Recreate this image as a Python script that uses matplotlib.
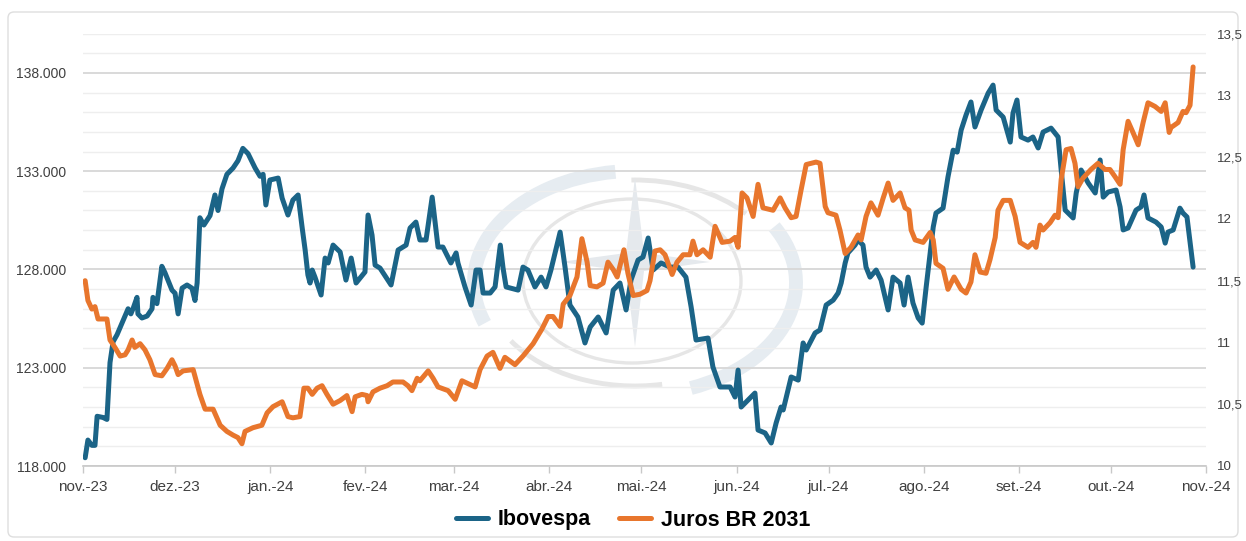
import numpy as np
import pandas as pd
import matplotlib
matplotlib.use("Agg")
import matplotlib.pyplot as plt
from matplotlib.patches import Arc, Ellipse, Polygon, FancyBboxPatch
from matplotlib.ticker import FixedLocator, MultipleLocator

plt.rcParams['font.family'] = ['Liberation Sans', 'DejaVu Sans']

# ---------------- data ----------------
start_date = "2023-11-01"
month_labels = ['nov.-23', 'dez.-23', 'jan.-24', 'fev.-24', 'mar.-24', 'abr.-24',
                'mai.-24', 'jun.-24', 'jul.-24', 'ago.-24', 'set.-24', 'out.-24', 'nov.-24']

# Ibovespa (points) - days since 2023-11-01
ibov_days = [0.7, 1.6, 2.9, 3.9, 4.6, 6.5, 7.8, 8.8, 9.8, 11.1,
             13.0, 14.7, 15.6, 16.3, 17.6, 17.9, 19.2, 20.9, 22.5, 22.8,
             24.1, 25.7, 26.7, 29.0, 30.0, 31.0, 32.3, 33.9, 35.5, 36.5,
             37.2, 38.1, 39.4, 41.4, 43.0, 44.0, 45.3, 46.9, 48.9, 50.5,
             52.1, 53.8, 56.1, 57.7, 58.7, 59.6, 60.9, 63.6, 64.9, 66.8,
             68.4, 70.1, 71.4, 72.4, 73.3, 74.0, 74.7, 75.6, 77.6, 78.9,
             79.9, 81.5, 83.8, 85.7, 87.4, 89.0, 90.3, 91.9, 92.9, 94.2,
             95.2, 96.8, 100.4, 102.7, 105.3, 106.6, 108.5, 109.8, 111.8, 113.8,
             115.7, 117.3, 119.9, 121.6, 122.2, 124.5, 126.5, 128.1, 129.4, 130.4,
             132.7, 134.3, 136.0, 136.9, 137.9, 141.8, 143.4, 145.0, 147.3, 149.3,
             150.9, 152.5, 155.5, 157.1, 158.7, 161.3, 163.6, 165.3, 167.9, 170.5,
             172.8, 175.0, 177.0, 178.6, 180.9, 182.5, 184.2, 185.8, 188.4, 191.3,
             193.9, 196.5, 198.2, 199.8, 203.7, 205.3, 207.6, 210.9, 212.5, 213.5,
             214.5, 216.8, 219.0, 220.0, 222.3, 224.3, 225.9, 227.5, 228.2, 230.8,
             233.1, 234.7, 235.7, 238.6, 240.2, 242.2, 244.5, 246.1, 247.1, 248.4,
             249.3, 251.6, 252.6, 254.2, 255.2, 256.5, 258.5, 260.1, 261.4, 262.4,
             264.0, 266.3, 267.6, 268.9, 270.5, 272.2, 273.5, 274.8, 277.1, 278.0,
             280.3, 281.9, 283.6, 284.9, 286.2, 287.8, 289.4, 290.7, 292.7, 295.0,
             296.6, 297.6, 299.9, 302.2, 303.1, 304.4, 305.7, 308.0, 309.6, 311.3,
             312.9, 315.5, 317.8, 318.8, 320.1, 322.7, 323.7, 325.3, 327.6, 329.9,
             331.5, 332.5, 334.1, 336.7, 338.0, 339.0, 340.6, 343.2, 344.8, 345.8,
             347.1, 349.7, 351.4, 352.7, 353.6, 355.3, 357.5, 358.5, 359.8, 361.8]
ibov_values = [118420, 119320, 119050, 119050, 120530, 120470, 120370, 123260, 124320, 124680,
               125370, 126000, 125740, 126000, 126580, 125740, 125530, 125630, 126000, 126580,
               126260, 128160, 127840, 126950, 126790, 125740, 127050, 127210, 127050, 126420,
               127320, 130630, 130260, 130740, 131790, 131000, 132100, 132840, 133160, 133530,
               134160, 133890, 133160, 132740, 132840, 131280, 132550, 132650, 131630, 130770,
               131530, 131790, 130160, 128990, 127720, 127310, 127970, 127610, 126700, 128580,
               128330, 129240, 128890, 127460, 128580, 127310, 127560, 127870, 130770, 129750,
               128220, 128070, 127210, 128990, 129240, 130110, 130410, 129500, 129500, 131680,
               129140, 129140, 128330, 128840, 128330, 127110, 126190, 127970, 127970, 126800,
               126800, 127110, 129240, 128070, 127110, 126950, 128120, 127970, 127110, 127610,
               127110, 127970, 129900, 128120, 126190, 125580, 124260, 125070, 125580, 124770,
               126950, 127310, 125940, 127460, 128480, 128630, 129600, 127970, 128330, 128120,
               128120, 127610, 126090, 124410, 124510, 123040, 122020, 122020, 121510, 122880,
               121000, 121360, 121710, 119830, 119680, 119170, 120190, 121000, 120850, 122530,
               122370, 124260, 123900, 124770, 124920, 126190, 126440, 126800, 127310, 128330,
               128840, 129240, 129500, 129240, 128120, 127610, 127970, 127460, 126600, 125940,
               127610, 127310, 126190, 127610, 126290, 125530, 125270, 127110, 130160, 130870,
               131120, 132700, 134070, 133970, 135090, 135860, 136520, 135250, 136110, 136970,
               137380, 136110, 135750, 134480, 135960, 136620, 134740, 134580, 134740, 134180,
               134990, 135190, 134740, 133060, 131020, 130620, 131890, 133060, 132400, 131890,
               133570, 131680, 131940, 132040, 131180, 130010, 130110, 131020, 131180, 131790,
               130620, 130410, 130160, 129340, 129900, 130010, 131120, 130870, 130670, 128120]

# Juros BR 2031 (% a.a.) - days since 2023-11-01
juros_days = [0.7, 1.6, 2.9, 3.9, 4.9, 7.2, 7.8, 8.8, 10.4, 12.1,
              13.7, 14.7, 16.0, 16.9, 18.6, 20.2, 21.8, 23.5, 25.7, 27.4,
              29.0, 30.0, 31.0, 32.6, 35.9, 38.1, 39.8, 42.4, 44.7, 46.9,
              48.9, 50.5, 51.8, 52.8, 55.4, 58.3, 60.0, 61.9, 64.9, 66.8,
              68.4, 70.7, 72.0, 73.3, 74.7, 76.3, 77.9, 79.5, 81.5, 83.8,
              86.0, 87.7, 88.7, 90.9, 92.6, 92.9, 94.5, 96.8, 99.1, 101.0,
              104.3, 105.9, 107.2, 108.9, 109.8, 112.5, 114.1, 115.7, 119.0, 121.3,
              123.5, 125.2, 127.8, 129.4, 131.7, 133.6, 135.9, 137.5, 140.8, 143.4,
              146.7, 149.6, 151.6, 153.2, 155.5, 156.5, 158.7, 161.0, 162.6, 164.3,
              165.3, 167.5, 169.5, 171.1, 172.8, 174.1, 176.3, 177.6, 179.3, 181.5,
              183.8, 184.8, 186.4, 188.1, 189.7, 192.0, 193.6, 195.6, 197.8, 198.8,
              200.1, 202.1, 204.4, 206.0, 208.3, 210.9, 212.5, 213.5, 214.8, 216.4,
              218.4, 220.0, 221.6, 224.9, 227.2, 228.8, 230.8, 232.4, 234.0, 235.7,
              238.9, 240.2, 241.9, 242.8, 245.4, 246.7, 248.4, 250.3, 252.6, 253.6,
              255.2, 256.8, 259.1, 260.8, 262.4, 264.0, 266.3, 267.9, 269.2, 269.9,
              271.2, 273.8, 276.1, 277.1, 278.0, 280.3, 281.9, 283.9, 286.2, 287.8,
              289.4, 290.7, 292.4, 294.3, 295.6, 297.3, 298.2, 299.9, 302.2, 303.8,
              305.4, 308.0, 309.6, 310.6, 311.9, 312.9, 315.2, 316.8, 317.8, 318.8,
              320.4, 322.0, 323.3, 324.3, 325.9, 328.5, 330.8, 333.1, 334.7, 336.4,
              338.0, 339.0, 340.6, 342.2, 343.9, 345.5, 347.1, 349.4, 351.4, 352.7,
              354.0, 354.6, 356.9, 358.5, 359.5, 360.8, 361.8]
juros_values = [11.50, 11.34, 11.27, 11.29, 11.19, 11.19, 11.19, 11.02, 10.96, 10.89,
                10.90, 10.94, 11.02, 10.96, 10.99, 10.94, 10.86, 10.74, 10.73, 10.79,
                10.86, 10.81, 10.74, 10.77, 10.78, 10.58, 10.46, 10.46, 10.33, 10.28,
                10.25, 10.23, 10.18, 10.28, 10.31, 10.33, 10.43, 10.48, 10.52, 10.40,
                10.39, 10.40, 10.63, 10.63, 10.58, 10.63, 10.65, 10.58, 10.50, 10.53,
                10.57, 10.44, 10.56, 10.58, 10.57, 10.52, 10.60, 10.63, 10.65, 10.68,
                10.68, 10.65, 10.61, 10.71, 10.69, 10.77, 10.71, 10.64, 10.61, 10.54,
                10.69, 10.67, 10.64, 10.78, 10.89, 10.92, 10.79, 10.88, 10.82, 10.89,
                10.99, 11.11, 11.21, 11.21, 11.13, 11.31, 11.38, 11.53, 11.84, 11.65,
                11.46, 11.45, 11.48, 11.65, 11.59, 11.53, 11.75, 11.56, 11.38, 11.39,
                11.42, 11.50, 11.74, 11.75, 11.71, 11.55, 11.65, 11.71, 11.71, 11.82,
                11.71, 11.75, 11.69, 11.94, 11.81, 11.82, 11.85, 11.77, 12.21, 12.17,
                12.02, 12.28, 12.09, 12.07, 12.17, 12.09, 12.01, 12.02, 12.23, 12.44,
                12.46, 12.45, 12.10, 12.05, 12.03, 11.91, 11.72, 11.77, 11.87, 11.83,
                12.02, 12.13, 12.03, 12.17, 12.29, 12.15, 12.21, 12.09, 12.07, 11.91,
                11.83, 11.81, 11.89, 11.83, 11.64, 11.60, 11.43, 11.53, 11.43, 11.40,
                11.49, 11.71, 11.57, 11.56, 11.67, 11.85, 12.07, 12.15, 12.15, 12.02,
                11.81, 11.77, 11.81, 11.77, 11.95, 11.91, 11.97, 12.03, 12.01, 12.32,
                12.56, 12.57, 12.45, 12.26, 12.33, 12.40, 12.45, 12.40, 12.40, 12.34,
                12.28, 12.56, 12.79, 12.70, 12.60, 12.78, 12.94, 12.91, 12.87, 12.94,
                12.70, 12.74, 12.78, 12.87, 12.86, 12.92, 13.23]

left_ticks = [118000, 123000, 128000, 133000, 138000]
right_ticks = [10, 10.5, 11, 11.5, 12, 12.5, 13, 13.5]

# ---------------- figure ----------------
W, H = 1246, 541
fig = plt.figure(figsize=(W / 100, H / 100), dpi=100)

# background decoration axes (pixel coordinates, y up)
wm = fig.add_axes([0, 0, 1, 1], zorder=0)
wm.set_xlim(0, W)
wm.set_ylim(0, H)
wm.axis('off')
wm.add_patch(FancyBboxPatch((8, 4), 1230, 525, boxstyle="round,pad=0,rounding_size=6",
                            fill=False, edgecolor='#dedede', lw=1.0))
cx, cy = 635, H - 283
band = '#e6ecf1'
thin = '#e6e6e6'
wm.add_patch(Arc((cx, cy), 322, 224, theta1=100, theta2=195, lw=10, color=band))
wm.add_patch(Arc((cx, cy), 322, 224, theta1=-62, theta2=22, lw=10, color=band))
wm.add_patch(Arc((cx, cy), 300, 206, theta1=32, theta2=92, lw=3.5, color=thin))
wm.add_patch(Arc((cx, cy), 300, 206, theta1=205, theta2=285, lw=3.5, color=thin))
wm.add_patch(Ellipse((cx - 3, H - 281), 218, 164, fill=False, lw=2.4, edgecolor=thin))
sx, sy = 635, H - 262
star = [(sx, sy + 85), (sx + 9, sy + 9), (sx + 75, sy), (sx + 9, sy - 9),
        (sx, sy - 85), (sx - 9, sy - 9), (sx - 75, sy), (sx - 9, sy + 9)]
wm.add_patch(Polygon(star, closed=True, facecolor='#e5e9ed', edgecolor='none'))

# main axes
x0, x1 = 83 / W, 1206 / W
y0, y1 = 1 - 466 / H, 1 - 33.6 / H
ax = fig.add_axes([x0, y0, x1 - x0, y1 - y0])
ax.set_zorder(1)
ax.patch.set_visible(False)
ax2 = ax.twinx()
ax2.set_zorder(2)
ax2.patch.set_visible(False)

base = pd.Timestamp(start_date)
ibov_dates = base + pd.to_timedelta(np.array(ibov_days), unit='D')
juros_dates = base + pd.to_timedelta(np.array(juros_days), unit='D')

blue = '#1b6487'
orange = '#e8762d'
ax.plot(ibov_dates, ibov_values, color=blue, lw=3.6, solid_joinstyle='round',
        solid_capstyle='round', label='Ibovespa')
ax2.plot(juros_dates, juros_values, color=orange, lw=3.6, solid_joinstyle='round',
         solid_capstyle='round', label='Juros BR 2031')

month_pos = pd.date_range(start_date, periods=13, freq='MS')
ax.set_xlim(month_pos[0], month_pos[-1])
ax.set_xticks(month_pos)
ax.set_xticklabels(month_labels)

ax.set_ylim(118000, 140000)
ax.yaxis.set_major_locator(FixedLocator(left_ticks))
ax.set_yticklabels([f"{v:,}".replace(',', '.') for v in left_ticks])
ax.yaxis.set_minor_locator(MultipleLocator(1000))
ax.grid(True, which='major', axis='y', color='#d9d9d9', lw=1.4)
ax.grid(True, which='minor', axis='y', color='#eeeeee', lw=1.0)
ax.set_axisbelow(True)

ax2.set_ylim(10, 13.5)
ax2.yaxis.set_major_locator(FixedLocator(right_ticks))
ax2.set_yticklabels([f"{v:g}".replace('.', ',') for v in right_ticks])

for a in (ax, ax2):
    for s in ('left', 'right', 'top'):
        a.spines[s].set_visible(False)
ax2.spines['bottom'].set_visible(False)
ax.spines['bottom'].set_color('#c8c8c8')
ax.spines['bottom'].set_linewidth(1.2)

tick_color = '#404040'
ax.tick_params(axis='x', which='major', length=5, width=1, color='#c8c8c8',
               labelsize=11, labelcolor=tick_color, pad=5)
ax.tick_params(axis='y', which='both', length=0, labelsize=10, labelcolor=tick_color, pad=12)
ax2.tick_params(axis='y', which='both', length=0, labelsize=9.5, labelcolor=tick_color, pad=8)

h1, l1 = ax.get_legend_handles_labels()
h2, l2 = ax2.get_legend_handles_labels()
fig.legend(h1 + h2, l1 + l2, loc='center', bbox_to_anchor=(633 / W, 1 - 520 / H),
           ncol=2, frameon=False, prop={'weight': 'bold', 'size': 15.5},
           handlelength=1.5, handletextpad=0.45, columnspacing=1.3)

fig.savefig('out.png', dpi=100)
